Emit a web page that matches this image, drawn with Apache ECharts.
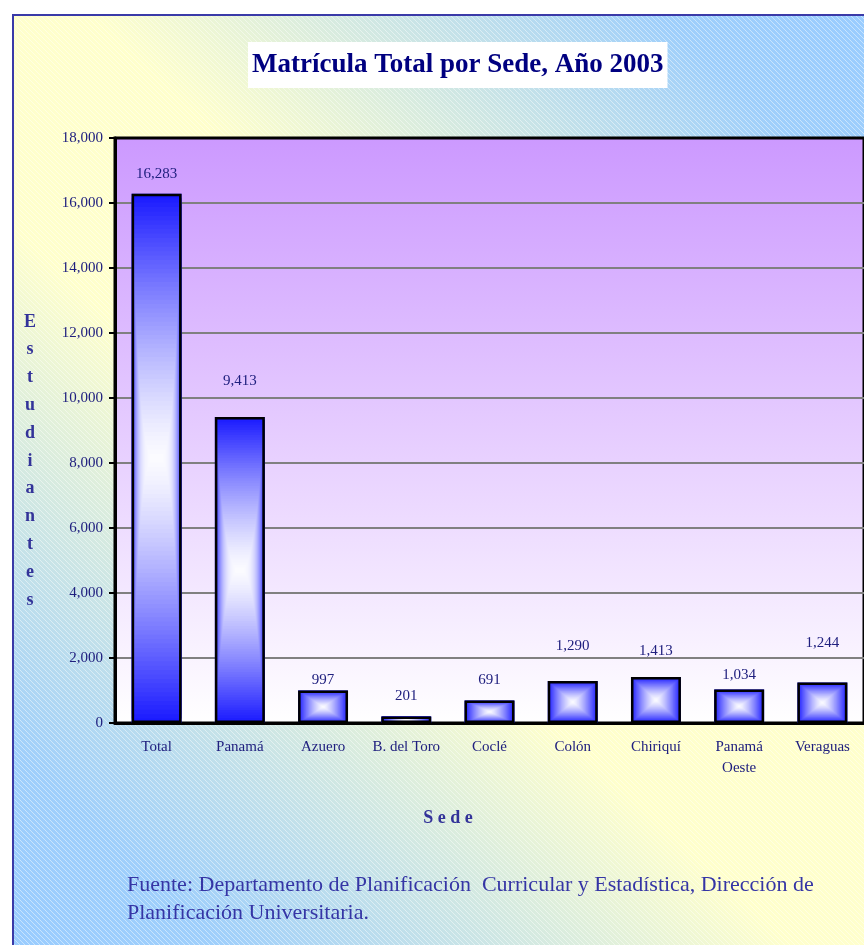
<!DOCTYPE html>
<html>
<head>
<meta charset="utf-8">
<title>Matrícula Total por Sede, Año 2003</title>
<script src="https://cdn.jsdelivr.net/npm/echarts@6/dist/echarts.min.js"></script>
<style>
  html, body { margin: 0; padding: 0; background: #fff; }
  #chart { width: 864px; height: 945px; }
</style>
</head>
<body>
<div id="chart"></div>
<script>
// datos
const sedes = ['Total', 'Panamá', 'Azuero', 'B. del Toro', 'Coclé', 'Colón', 'Chiriquí', 'Panamá\nOeste', 'Veraguas'];
const matricula = [16283, 9413, 997, 201, 691, 1290, 1413, 1034, 1244];
const yMin = 0, yMax = 18000, yStep = 2000;
// separacion de cada etiqueta sobre su barra (estilo, como en el original)
const labelLift = [12, 29, 3, 13, 13, 28, 19, 7, 32];

const serif = '"Liberation Serif", "Times New Roman", serif';
const navy = '#20207f';

let chart = echarts.init(document.getElementById('chart'));

// rayado diagonal del fondo
let hatch = document.createElement('canvas');
hatch.width = 5; hatch.height = 5;
let hctx = hatch.getContext('2d');
hctx.strokeStyle = 'rgba(255,255,255,0.45)';
hctx.lineWidth = 1;
hctx.beginPath();
hctx.moveTo(-1, -1); hctx.lineTo(6, 6);
hctx.stroke();

let outer = [26, 26, 255], inner = [252, 252, 255];
function mix(t) {
	let c = outer.map((o, k) => Math.round(o + (inner[k] - o) * t));
	return `rgb(${c[0]},${c[1]},${c[2]})`;
}

// relleno tipo "desde el centro" con rectangulos anidados
function renderFill(params, api) {
	let idx = api.value(0), val = api.value(1);
	let top = api.coord([idx, val]);
	let base = api.coord([idx, 0]);
	let w = api.size([1, 0])[0] * 0.6;
	let h = base[1] - top[1];
	let cx = top[0], cy = (top[1] + base[1]) / 2;
	// en barras altas el claro se abre mas a lo ancho
	let p = Math.max(1, Math.sqrt(h / w));
	let steps = 60;
	let children = [];
	for (let i = 0; i < steps; i++) {
		let s = 1 - i / steps;
		let rw = w * Math.pow(s, 1 / p), rh = h * s;
		children.push({
			type: 'rect',
			shape: { x: cx - rw / 2, y: cy - rh / 2, width: rw, height: rh },
			style: { fill: mix(1 - Math.pow(s, 1.3)) }
		});
	}
	return { type: 'group', children: children };
}

let option = {
	animation: false,
	title: {
		text: 'Matrícula Total por Sede, Año 2003',
		left: 248,
		top: 42,
		padding: [8, 4, 7, 4],
		backgroundColor: '#ffffff',
		textStyle: { fontFamily: serif, fontSize: 27, fontWeight: 'bold', color: '#000080', lineHeight: 31 }
	},
	graphic: [
		{
			type: 'rect', z: -2, silent: true,
			shape: { x: 13, y: 15, width: 870, height: 945 },
			style: {
				fill: new echarts.graphic.LinearGradient(0, 1, 1, 0, [
					{ offset: 0, color: '#99ccff' },
					{ offset: 0.12, color: '#9fcffb' },
					{ offset: 0.42, color: '#ffffcc' },
					{ offset: 0.58, color: '#ffffcc' },
					{ offset: 0.88, color: '#9fcffb' },
					{ offset: 1, color: '#99ccff' }
				]),
				stroke: '#3a3aa8',
				lineWidth: 2
			}
		},
		{
			type: 'rect', z: -1, silent: true,
			shape: { x: 14, y: 16, width: 868, height: 943 },
			style: { fill: { image: hatch, repeat: 'repeat' } }
		},
		{
			type: 'text', z: 10,
			style: {
				x: 30, y: 461,
				text: 'Estudiantes'.split('').join('\n'),
				textAlign: 'center', textVerticalAlign: 'middle',
				font: 'bold 18px ' + serif, lineHeight: 27.8,
				fill: '#333399'
			}
		},
		{
			type: 'text', z: 10,
			style: {
				x: 448, y: 818,
				text: 'S e d e',
				textAlign: 'center', textVerticalAlign: 'middle',
				font: 'bold 18px ' + serif,
				fill: '#333399'
			}
		},
		{
			type: 'text', z: 10,
			style: {
				x: 127, y: 871,
				text: 'Fuente: Departamento de Planificación  Curricular y Estadística, Dirección de\nPlanificación Universitaria.',
				textAlign: 'left', textVerticalAlign: 'top',
				font: '22px ' + serif, lineHeight: 28,
				fill: '#3535a5'
			}
		}
	],
	grid: {
		left: 115,
		top: 138,
		width: 757,
		bottom: 222,
		show: true,
		backgroundColor: new echarts.graphic.LinearGradient(0, 0, 0, 1, [
			{ offset: 0, color: '#cc99ff' },
			{ offset: 1, color: '#ffffff' }
		]),
		borderColor: '#000',
		borderWidth: 3
	},
	xAxis: {
		type: 'category',
		data: sedes,
		axisLine: { lineStyle: { color: '#000', width: 3 } },
		axisTick: { length: 6, lineStyle: { color: '#000', width: 2 } },
		axisLabel: { interval: 0, margin: 14, fontFamily: serif, fontSize: 15, lineHeight: 21, color: navy }
	},
	yAxis: {
		type: 'value',
		min: yMin,
		max: yMax,
		interval: yStep,
		axisLine: { show: true, lineStyle: { color: '#000', width: 3 } },
		axisTick: { show: true, length: 6, lineStyle: { color: '#000', width: 2 } },
		axisLabel: {
			margin: 12, fontFamily: serif, fontSize: 15, color: navy,
			formatter: v => v.toLocaleString('en-US')
		},
		splitLine: { showMinLine: false, showMaxLine: false, lineStyle: { color: '#808080', width: 2 } }
	},
	series: [
		{
			type: 'custom',
			z: 2,
			renderItem: renderFill,
			data: matricula.map((v, i) => [i, v]),
			encode: { x: 0, y: 1 },
			silent: true
		},
		{
			type: 'bar',
			z: 3,
			barWidth: '60%',
			data: matricula.map((v, i) => ({ value: v, label: { distance: labelLift[i] } })),
			itemStyle: { color: 'rgba(0,0,0,0)', borderColor: '#000', borderWidth: 2.5 },
			label: {
				show: true,
				position: 'top',
				fontFamily: serif,
				fontSize: 15,
				color: navy,
				formatter: p => p.value.toLocaleString('en-US')
			}
		}
	]
};

chart.setOption(option);
</script>
</body>
</html>
